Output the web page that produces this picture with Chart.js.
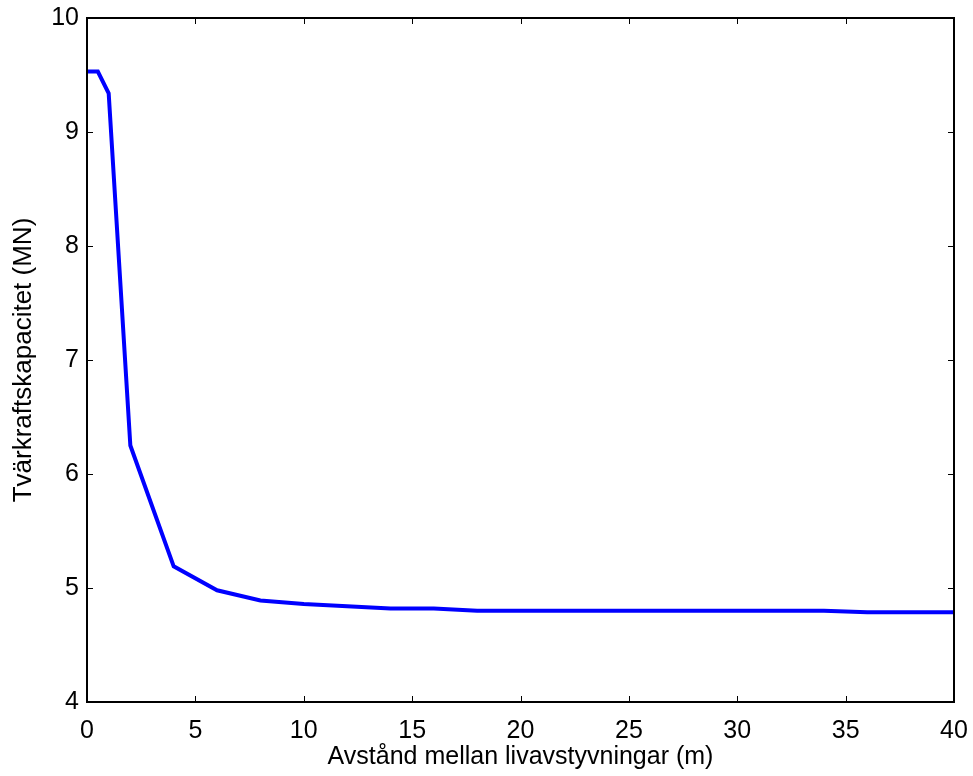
<!DOCTYPE html>
<html lang="sv">
<head>
    <meta charset="UTF-8">
    <title>Tvärkraftskapacitet</title>
    <script src="https://cdn.jsdelivr.net/npm/chart.js"></script>
    <style>
        html, body { margin: 0; padding: 0; background: #fff; }
        #wrap { width: 973px; height: 776px; position: relative; }
    </style>
</head>
<body>
    <div id="wrap"><canvas id="chart"></canvas></div>
    <script>
        // Avstånd mellan livavstyvningar (m) och tvärkraftskapacitet (MN)
        const distances = [0, 0.5, 1, 2, 4, 6, 8, 10, 12, 14, 16, 18, 20, 22, 24, 26, 28, 30, 32, 34, 36, 38, 40];
        const capacities = [9.53, 9.53, 9.34, 6.25, 5.19, 4.98, 4.89, 4.86, 4.84, 4.82, 4.82, 4.80, 4.80, 4.80, 4.80, 4.80, 4.80, 4.80, 4.80, 4.80, 4.787, 4.787, 4.787];
        const xTicks = [0, 5, 10, 15, 20, 25, 30, 35, 40];
        const yTicks = [4, 5, 6, 7, 8, 9, 10];

        const FONT = "'Liberation Sans', Arial, sans-serif";

        // MATLAB-style box with inward ticks on all four sides
        const boxTicks = {
            id: 'boxTicks',
            afterDraw(chart) {
                const { ctx, chartArea: a, scales } = chart;
                const len = 6;
                ctx.save();
                ctx.strokeStyle = '#000';
                ctx.lineWidth = 1;
                ctx.beginPath();
                xTicks.forEach(v => {
                    const px = Math.round(scales.x.getPixelForValue(v)) + 0.5;
                    ctx.moveTo(px, a.bottom); ctx.lineTo(px, a.bottom - len);
                    ctx.moveTo(px, a.top); ctx.lineTo(px, a.top + len);
                });
                yTicks.forEach(v => {
                    const py = Math.round(scales.y.getPixelForValue(v)) + 0.5;
                    ctx.moveTo(a.left, py); ctx.lineTo(a.left + len, py);
                    ctx.moveTo(a.right, py); ctx.lineTo(a.right - len, py);
                });
                ctx.stroke();
                ctx.lineWidth = 2;
                ctx.strokeRect(a.left, a.top, a.right - a.left, a.bottom - a.top);
                ctx.restore();
            }
        };

        new Chart(document.getElementById('chart'), {
            type: 'scatter',
            data: {
                datasets: [{
                    data: distances.map((d, i) => ({ x: d, y: capacities[i] })),
                    showLine: true,
                    borderColor: '#0000ff',
                    borderWidth: 4,
                    pointRadius: 0,
                    tension: 0,
                    fill: false
                }]
            },
            options: {
                responsive: true,
                maintainAspectRatio: false,
                animation: false,
                layout: { padding: { top: 18, right: 19, left: 0, bottom: 0 } },
                plugins: { legend: { display: false }, tooltip: { enabled: false } },
                scales: {
                    x: {
                        type: 'linear',
                        min: 0,
                        max: 40,
                        afterBuildTicks: s => { s.ticks = xTicks.map(v => ({ value: v })); },
                        afterFit: s => { s.height = 74; s.paddingLeft = 0; s.paddingRight = 0; },
                        grid: { display: false, drawTicks: false },
                        border: { display: false },
                        ticks: { color: '#000', padding: 14, maxRotation: 0, font: { family: FONT, size: 25 } },
                        title: {
                            display: true,
                            text: 'Avstånd mellan livavstyvningar (m)',
                            color: '#000',
                            font: { family: FONT, size: 25 },
                            padding: { top: 0, bottom: 4 }
                        }
                    },
                    y: {
                        type: 'linear',
                        min: 4,
                        max: 10,
                        afterBuildTicks: s => { s.ticks = yTicks.map(v => ({ value: v })); },
                        afterFit: s => { s.width = 87; s.paddingTop = 0; s.paddingBottom = 0; },
                        grid: { display: false, drawTicks: false },
                        border: { display: false },
                        ticks: { color: '#000', padding: 8, font: { family: FONT, size: 25 } },
                        title: {
                            display: true,
                            text: 'Tvärkraftskapacitet (MN)',
                            color: '#000',
                            font: { family: FONT, size: 26 },
                            padding: { top: 8, bottom: 0 }
                        }
                    }
                }
            },
            plugins: [boxTicks]
        });
    </script>
</body>
</html>
